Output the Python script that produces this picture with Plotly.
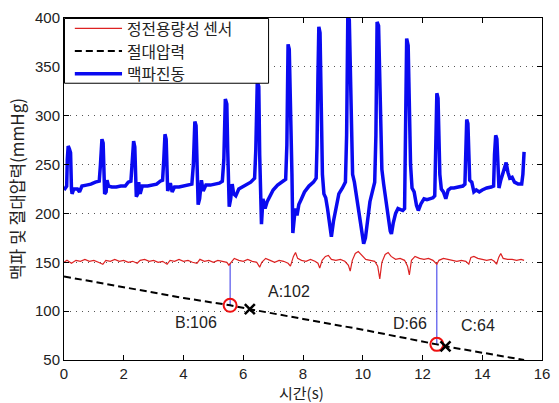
import plotly.graph_objects as go

# ---------------- data ----------------
pulse_t = [0.00,0.05,0.09,0.11,0.14,0.18,0.22,0.25,0.27,0.33,0.45,0.52,0.60,0.75,0.90,1.05,1.18,
           1.22,1.27,1.31,1.34,1.36,1.41,1.44,1.49,1.60,1.75,1.90,2.05,2.15,2.24,
           2.28,2.33,2.37,2.40,2.42,2.47,2.50,2.55,2.62,2.80,2.95,3.10,3.22,3.30,
           3.34,3.38,3.42,3.45,3.47,3.52,3.56,3.62,3.70,3.85,4.00,4.15,4.28,
           4.33,4.38,4.42,4.44,4.47,4.49,4.54,4.60,4.66,4.75,4.90,5.05,5.20,5.30,
           5.35,5.40,5.45,5.48,5.51,5.53,5.58,5.63,5.68,5.75,5.85,5.95,6.10,6.25,6.38,
           6.42,6.47,6.52,6.55,6.58,6.61,6.66,6.73,6.80,6.88,7.00,7.15,7.30,7.42,
           7.46,7.50,7.54,7.57,7.60,7.63,7.66,7.70,7.74,7.80,7.86,7.95,8.05,8.20,8.35,8.44,
           8.47,8.50,8.53,8.57,8.59,8.62,8.65,8.70,8.76,8.82,8.88,8.95,9.02,9.10,9.20,9.32,9.42,
           9.46,9.50,9.55,9.58,9.62,9.66,9.72,9.80,9.88,9.96,10.03,10.09,10.16,10.24,10.32,10.40,
           10.44,10.48,10.53,10.56,10.60,10.64,10.70,10.78,10.86,10.92,10.96,11.02,11.10,11.18,11.26,11.34,11.40,
           11.43,11.47,11.52,11.56,11.60,11.65,11.72,11.80,11.86,11.95,12.05,12.15,12.25,12.35,12.41,
           12.44,12.48,12.52,12.55,12.58,12.63,12.70,12.78,12.86,12.95,13.05,13.20,13.35,13.42,
           13.44,13.48,13.52,13.55,13.58,13.65,13.72,13.80,13.90,14.00,14.15,14.30,14.38,
           14.41,14.45,14.49,14.52,14.56,14.62,14.68,14.75,14.80,14.86,14.92,15.00,15.08,15.20,15.32,15.36,15.40]
pulse_v = [224,226,228,255,269,266,262,225,220,225,225,222,228,229,230,232,233,
           250,276,272,240,220,222,234,228,227,227,228,228,232,233,
           252,274,268,230,217,220,232,220,228,228,229,230,233,234,
           255,281,276,240,223,228,231,222,227,227,228,229,230,
           250,294,290,262,220,209,215,234,223,229,229,230,231,233,
           255,317,312,265,215,207,215,230,220,218,225,227,230,232,236,
           265,335,330,260,200,189,215,205,212,217,224,229,232,235,
           270,373,368,330,300,240,180,195,205,198,209,215,222,228,232,236,
           270,340,391,385,330,300,240,220,216,205,188,176,192,205,220,226,232,
           280,402,398,340,290,240,232,215,200,182,169,175,195,212,222,232,
           280,396,392,345,290,245,230,215,195,182,179,190,200,205,204,203,205,
           290,379,372,310,250,226,222,208,203,210,215,214,215,216,218,
           280,323,318,280,240,225,222,215,224,226,226,227,228,230,
           260,296,292,250,234,232,222,224,222,224,226,227,228,
           260,280,276,240,226,234,240,250,252,242,236,237,232,230,230,240,263]

sensor_t = [0.00,0.10,0.25,0.40,0.55,0.70,0.85,1.00,1.15,1.30,1.40,1.55,1.70,1.85,2.00,2.15,2.30,2.45,
            2.55,2.70,2.85,3.00,3.15,3.30,3.45,3.55,3.70,3.85,4.00,4.15,4.30,4.45,4.55,4.70,4.85,
            5.00,5.15,5.30,5.45,5.52,5.60,5.70,5.85,6.00,6.15,6.30,6.45,6.55,6.62,6.75,6.90,7.05,
            7.20,7.35,7.50,7.58,7.68,7.75,7.82,7.95,8.10,8.25,8.40,8.50,8.56,8.64,8.75,8.85,8.95,
            9.10,9.25,9.40,9.52,9.58,9.65,9.75,9.85,9.95,10.10,10.25,10.40,10.50,10.57,10.64,10.75,
            10.85,10.95,11.10,11.25,11.40,11.50,11.56,11.63,11.75,11.90,12.05,12.20,12.35,12.48,
            12.55,12.70,12.85,13.00,13.15,13.30,13.45,13.55,13.62,13.72,13.85,14.00,14.15,14.30,
            14.40,14.48,14.55,14.62,14.70,14.85,15.00,15.15,15.30,15.40]
sensor_v = [150,152,149,152,151,153,151,152,150,148,152,151,153,151,152,150,151,149,
            152,153,151,152,150,151,148,152,151,153,151,152,150,149,153,151,152,
            150,152,151,150,147,150,154,152,151,153,151,150,145,150,154,152,150,
            152,151,149,146,156,160,154,152,151,153,151,149,144,152,156,157,153,
            152,153,151,147,141,152,159,161,158,153,152,151,146,133,150,158,
            160,156,153,154,152,146,137,152,156,154,153,154,152,148,
            152,154,153,152,151,152,151,148,155,156,154,153,152,153,
            151,148,155,159,154,153,153,152,153,152]

abs_t = [0.0, 2.0, 4.0, 5.56, 6.22, 8.0, 10.0, 12.48, 12.77, 14.0, 15.4]
abs_v = [135.5, 124.5, 113.5, 106, 102, 92, 81, 66, 64, 57.5, 50]

# detected points
osc_t = [5.56, 12.48]          # B, D (red circles)
osc_v = [106, 66]
osc_sensor = [149, 148]        # sensor level where the vertical guide starts
osc_labels = ["B:106", "D:66"]
ref_t = [6.22, 12.77]          # A, C (black crosses)
ref_v = [102, 64]
ref_labels = ["A:102", "C:64"]

series_names = ["정전용량성 센서", "절대압력", "맥파진동"]
x_ticks = [0, 2, 4, 6, 8, 10, 12, 14, 16]
y_ticks = [50, 100, 150, 200, 250, 300, 350, 400]

KR = "Noto Sans CJK KR"
NUM = "Liberation Sans"
RED, BLACK, BLUE = "#dd2222", "black", "#0a0af0"

fig = go.Figure()

# vertical guides
for t, s, v in zip(osc_t, osc_sensor, osc_v):
    fig.add_trace(go.Scatter(x=[t, t], y=[s, v], mode="lines",
                             line=dict(color="#3030e8", width=1),
                             showlegend=False, hoverinfo="skip"))

styles = [dict(color=RED, width=1.2), dict(color=BLACK, width=2, dash="7px,4px"),
          dict(color=BLUE, width=3.5)]
fig.add_trace(go.Scatter(x=sensor_t, y=sensor_v, mode="lines", name=series_names[0],
                         line=styles[0], showlegend=False))
fig.add_trace(go.Scatter(x=abs_t, y=abs_v, mode="lines", name=series_names[1],
                         line=styles[1], showlegend=False))
fig.add_trace(go.Scatter(x=pulse_t, y=pulse_v, mode="lines", name=series_names[2],
                         line=styles[2], showlegend=False))

fig.add_trace(go.Scatter(x=osc_t, y=osc_v, mode="markers", showlegend=False,
                         marker=dict(symbol="circle-open", size=13, color="#ee1111",
                                     line=dict(width=2, color="#ee1111"))))
fig.add_trace(go.Scatter(x=ref_t, y=ref_v, mode="markers", showlegend=False,
                         marker=dict(symbol="x-thin", size=10, color="black",
                                     line=dict(width=2.5, color="black"))))

ann_font = dict(family=NUM, size=16, color="#222")
shifts_osc = [(-34, -17), (-27, 21)]
shifts_ref = [(39, 18), (32, 21)]
for t, v, lab, (dx, dy) in zip(osc_t, osc_v, osc_labels, shifts_osc):
    fig.add_annotation(x=t, y=v, text=lab, showarrow=False, xshift=dx, yshift=dy, font=ann_font)
for t, v, lab, (dx, dy) in zip(ref_t, ref_v, ref_labels, shifts_ref):
    fig.add_annotation(x=t, y=v, text=lab, showarrow=False, xshift=dx, yshift=dy, font=ann_font)

# legend box (MATLAB style)
PW, PH = 486.0, 346.0
def px(xp):
    return xp / PW
def py(yp):
    return 1 - yp / PH
fig.add_shape(type="rect", xref="paper", yref="paper", x0=px(0.5), x1=px(208), y0=py(66), y1=py(0.5),
              fillcolor="white", line=dict(color="black", width=1), layer="above")
row_y = [10.5, 33.5, 56.5]
for name, st, ry in zip(series_names, styles, row_y):
    fig.add_shape(type="line", xref="paper", yref="paper", x0=px(11), x1=px(59), y0=py(ry), y1=py(ry),
                  line=st, layer="above")
    fig.add_annotation(xref="paper", yref="paper", x=px(63), y=py(ry), text=name, showarrow=False,
                       xanchor="left", yanchor="middle", borderpad=0,
                       font=dict(family=KR, size=15.8, color="#222"))

# x axis title
fig.add_annotation(xref="paper", yref="paper", x=0.5 - 2 / PW, y=-43 / PH, text="시간(s)", showarrow=False,
                   xanchor="center", yanchor="bottom", borderpad=0, yshift=-1.5,
                   font=dict(family=KR, size=15, color="#222"))

axis_common = dict(showline=True, linecolor="black", linewidth=1, mirror="ticks",
                   ticks="inside", ticklen=5, tickcolor="black",
                   tickfont=dict(family=NUM, size=15, color="#222"), zeroline=False)

fig.update_xaxes(range=[0, 16], tickvals=x_ticks, showgrid=False, **axis_common)
fig.update_yaxes(range=[50, 400], tickvals=y_ticks, showgrid=True, gridcolor="#555",
                 griddash="1px,5px", gridwidth=1,
                 title=dict(text="맥파 및 절대압력(mmHg)", font=dict(family=KR, size=17, color="#222"), standoff=6),
                 **axis_common)

fig.update_layout(
    width=559, height=403,
    margin=dict(l=64, r=9, t=14, b=43),
    plot_bgcolor="white", paper_bgcolor="white",
    showlegend=False,
)

fig.write_html("out.html")
